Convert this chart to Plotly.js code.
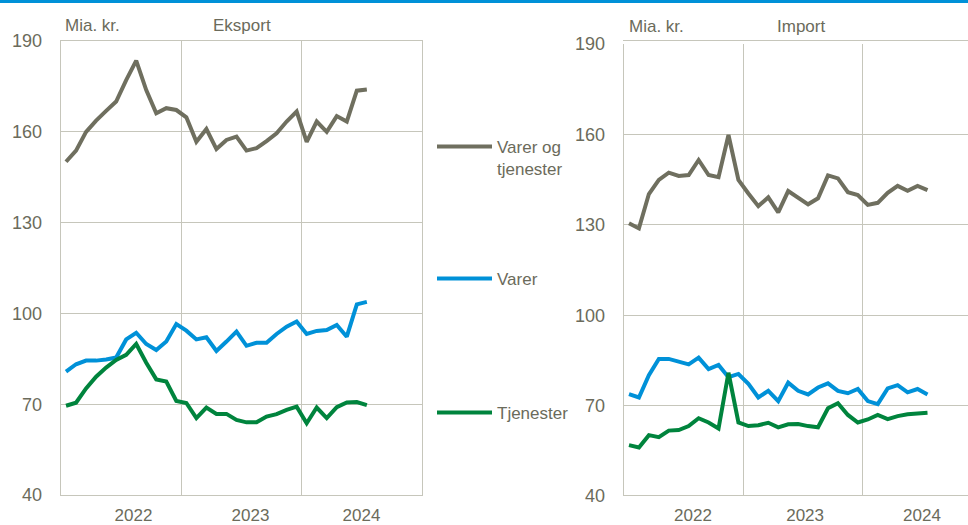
<!DOCTYPE html>
<html>
<head>
<meta charset="utf-8">
<script src="https://cdn.plot.ly/plotly-3.0.1.min.js"></script>
<style>html,body{margin:0;padding:0;background:#fff;}#chart{width:968px;height:525px;}</style>
</head>
<body>
<div id="chart"></div>
<script>
// Months Jul 2021 .. Jan 2024
const months = ['2021-07','2021-08','2021-09','2021-10','2021-11','2021-12',
  '2022-01','2022-02','2022-03','2022-04','2022-05','2022-06','2022-07','2022-08','2022-09','2022-10','2022-11','2022-12',
  '2023-01','2023-02','2023-03','2023-04','2023-05','2023-06','2023-07','2023-08','2023-09','2023-10','2023-11','2023-12',
  '2024-01'];
const yearLabels = ['2022','2023','2024'];
const seriesNames = ['Varer og<br>tjenester','Varer','Tjenester'];

const eksportTotal = [150.1,153.8,160.0,163.7,166.9,170.0,177.1,183.5,173.8,166.1,167.8,167.2,164.8,156.7,160.9,154.3,157.3,158.4,153.8,154.6,156.9,159.5,163.4,166.7,156.7,163.4,160.0,165.2,163.4,173.6,174.0];
const eksportVarer = [80.8,83.2,84.4,84.4,84.8,85.4,91.4,93.6,89.9,87.9,90.7,96.5,94.3,91.4,92.1,87.6,90.7,94.0,89.3,90.3,90.3,93.2,95.6,97.3,93.2,94.2,94.5,96.2,92.3,103.0,103.8];
const eksportTjenester = [69.5,70.5,75.2,79.1,82.1,84.6,86.3,89.9,83.7,78.2,77.5,71.1,70.4,65.4,68.9,66.8,66.8,64.8,64.0,64.0,65.9,66.7,68.1,69.2,63.7,68.9,65.4,69.0,70.6,70.7,69.7];

const importTotal = [130.5,128.8,140.2,144.9,147.3,146.2,146.5,151.5,146.5,145.8,159.8,144.9,140.4,136.2,139.1,134.1,141.2,139.0,136.8,138.8,146.4,145.4,140.8,139.9,136.6,137.3,140.6,142.9,141.3,142.9,141.5];
const importVarer = [73.8,72.7,80.1,85.5,85.5,84.6,83.7,85.9,82.1,83.5,79.4,80.5,77.2,72.7,74.9,71.5,77.6,74.9,73.7,76.0,77.4,74.9,74.1,75.5,71.5,70.5,75.7,76.8,74.4,75.5,73.7];
const importTjenester = [56.9,56.1,60.2,59.5,61.7,61.9,63.2,65.8,64.4,62.4,80.9,64.4,63.2,63.5,64.3,62.8,63.8,63.9,63.2,62.8,69.1,70.8,66.9,64.4,65.4,66.9,65.5,66.5,67.1,67.4,67.6];

const yTicks = [40,70,100,130,160,190];

const GRAY = '#6f6f5f', BLUE = '#0091d8', GREEN = '#00843d';
const TXT = '#6b6b5b', GRID = '#c6c6bb';
const FONT = 'Liberation Sans, Arial, sans-serif';
const idx = months.map((m,i)=>i);

function tr(y, color, name, xa, ya, leg, show){
  return {x: idx, y: y, type:'scatter', mode:'lines', name: name,
    line:{color:color, width:4}, xaxis:xa, yaxis:ya, legend: leg, showlegend: show,
    hoverinfo:'skip'};
}
const data = [
  tr(eksportTotal, GRAY, seriesNames[0], 'x', 'y', 'legend', true),
  tr(eksportVarer, BLUE, seriesNames[1], 'x', 'y', 'legend2', true),
  tr(eksportTjenester, GREEN, seriesNames[2], 'x', 'y', 'legend3', true),
  tr(importTotal, GRAY, seriesNames[0], 'x2', 'y2', 'legend', false),
  tr(importVarer, BLUE, seriesNames[1], 'x2', 'y2', 'legend', false),
  tr(importTjenester, GREEN, seriesNames[2], 'x2', 'y2', 'legend', false)
];

function xax(domain, range, tv){
  return {domain: domain, range: range, tickmode:'array', tickvals: tv, ticktext: yearLabels,
    showgrid:false, zeroline:false, ticks:'', showline:true, mirror:true, linecolor:GRID, linewidth:1.3,
    tickfont:{size:17, color:TXT, family:FONT}, ticklabelstandoff: 4,
    minor:{tickmode:'array', tickvals:[11.5, 23.5], showgrid:true, gridcolor:GRID, gridwidth:1.3, ticks:''},
    fixedrange:true};
}
function yax(domain, anchor, mirror){
  return {domain: domain, range:[40,190], tickmode:'array', tickvals: yTicks,
    showgrid:true, gridcolor:GRID, gridwidth:1.3, zeroline:false, ticks:'',
    showline:true, mirror:mirror, linecolor:GRID, linewidth:1.3, anchor: anchor,
    tickfont:{size:18, color:TXT, family:FONT}, ticklabelstandoff: 14, fixedrange:true};
}
function leg(ypx){
  return {x: 432/968, xanchor:'left', y: 1 - ypx/525, yanchor:'top', bgcolor:'rgba(0,0,0,0)',
    font:{size:17, color:TXT, family:FONT}, itemwidth:55, valign:'top', borderwidth:0};
}
function ann(text, xpx, ypx, anchor){
  return {text:text, xref:'paper', yref:'paper', x: xpx/968, y: 1 - ypx/525, xanchor:anchor, yanchor:'middle',
    showarrow:false, font:{size:17, color:TXT, family:FONT}};
}

const layout = {
  width:968, height:525, margin:{l:0, r:0, t:0, b:0},
  paper_bgcolor:'#fff', plot_bgcolor:'#fff',
  font:{family:FONT, color:TXT},
  xaxis: xax([61/968, 422/968], [-0.5, 35.5], [6.73, 18.39, 29.46]),
  yaxis: yax([30/525, 484/525], 'x', true),
  xaxis2: xax([624/968, 1], [-0.5, 34.07], [6.43, 17.7, 29.45]),
  yaxis2: yax([29/525, 481/525], 'x2', false),
  legend: leg(129),
  legend2: leg(261),
  legend3: leg(395),
  annotations: [
    ann('Mia. kr.', 63, 25, 'left'),
    ann('Eksport', 242.5, 25, 'center'),
    ann('Mia. kr.', 627, 26, 'left'),
    ann('Import', 801, 26, 'center')
  ],
  shapes: [
    {type:'rect', xref:'paper', yref:'paper', x0:0, x1:1, y0:1 - 3/525, y1:1, fillcolor:'#0091d8', line:{width:0}}
  ]
};

Plotly.newPlot('chart', data, layout, {displayModeBar:false, staticPlot:true});
</script>
</body>
</html>
